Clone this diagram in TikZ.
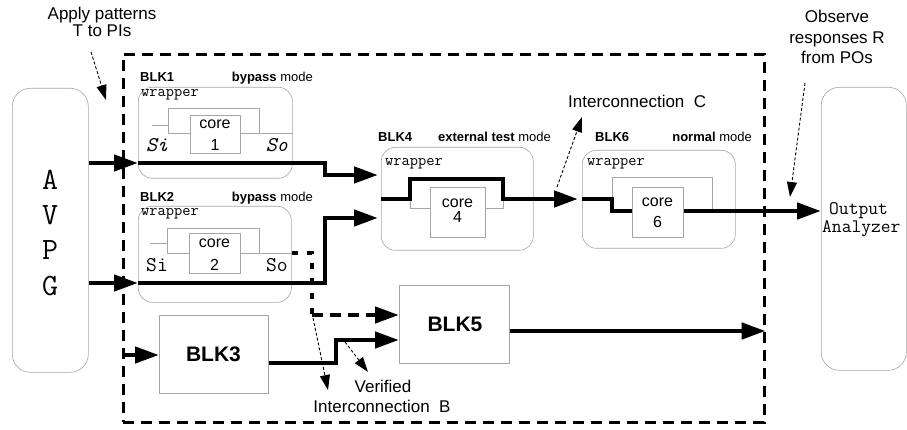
\documentclass[tikz,border=0pt]{standalone}
\usepackage{fontspec}
\setmainfont{Liberation Sans}
\usetikzlibrary{arrows.meta}

\begin{document}
\begin{tikzpicture}[x=1pt,y=-1pt,
  thinbox/.style={draw=gray!70, line width=0.6pt, inner sep=0pt},
  wrap/.style={thinbox, rounded corners=14pt},
  wire/.style={draw=gray!70, line width=0.8pt},
  heavy/.style={line width=4.5pt},
  bigtip/.style={-{Triangle[length=24pt,width=16pt]}},
  dotpat/.style={heavy, dash pattern=on 6pt off 9pt},
  dashpat/.style={heavy, dash pattern=on 11pt off 7pt},
  notearrow/.style={line width=0.9pt, dash pattern=on 3pt off 2pt, -{Triangle[length=15pt,width=10pt]}},
  note/.style={font=\fontsize{17}{20}\selectfont, inner sep=0pt},
  blklab/.style={font=\fontsize{13}{15}\selectfont\bfseries, inner sep=0pt},
  modelab/.style={font=\fontsize{13}{15}\selectfont, inner sep=0pt},
  corelab/.style={font=\fontsize{16}{18}\selectfont, inner sep=0pt},
  wraplab/.style={font=\ttfamily\fontsize{16}{18}\selectfont, inner sep=0pt},
  portlab/.style={font=\ttfamily\fontsize{21}{23}\selectfont, inner sep=0pt},
  biglab/.style={font=\fontsize{21}{24}\selectfont\bfseries, inner sep=0pt},
  avpglab/.style={font=\ttfamily\fontsize{31}{33}\selectfont, inner sep=0pt},
  oalab/.style={font=\ttfamily\fontsize{19}{21}\selectfont, inner sep=0pt}
]
\useasboundingbox (0,0) rectangle (907,430);
\fill[white] (0,0) rectangle (907,430);

% ---- outer blocks: pattern generator, SoC boundary, output analyzer
\node[wrap, rounded corners=18pt, minimum width=76pt, minimum height=284pt, anchor=north west] (avpg) at (12,88) {};
\node[avpglab, anchor=base] (la) at (50,190) {A};
\node[avpglab, anchor=base] (lv) at (50,225) {V};
\node[avpglab, anchor=base] (lp) at (50,260) {P};
\node[avpglab, anchor=base] (lg) at (50,295) {G};

\node[draw, line width=2.6pt, dash pattern=on 11pt off 7pt, inner sep=0pt,
      minimum width=641pt, minimum height=368pt, anchor=north west] (soc) at (122,53) {};

\node[wrap, rounded corners=18pt, minimum width=85pt, minimum height=283pt, anchor=north west] (oa) at (821,87) {};
\node[oalab, anchor=base west] (oa1) at (829,215) {Output};
\node[oalab, anchor=base west] (oa2) at (822,233) {Analyzer};

% ---- notes
\node[note, anchor=base] (ap1) at (102,19.5) {Apply patterns};
\node[note, anchor=base] (ap2) at (102,37) {T to PIs};
\node[note, anchor=base] (ob1) at (837,23) {Observe};
\node[note, anchor=base] (ob2) at (837,43.5) {responses R};
\node[note, anchor=base] (ob3) at (837,64) {from POs};
\node[note, anchor=base west] (icc) at (568,108) {Interconnection\ \ C};
\node[note, anchor=base] (vf1) at (383,392) {Verified};
\node[note, anchor=base] (vf2) at (382,412) {Interconnection\ \ B};

% ---- BLK1 (bypass)
\node[blklab, anchor=base west] (b1) at (140,82) {BLK1};
\node[modelab, anchor=base east] (m1) at (313,82) {\textbf{bypass} mode};
\node[wrap, minimum width=154pt, minimum height=91pt, anchor=north west] (w1) at (138,87) {};
\node[wraplab, anchor=base west] (wl1) at (141,97) {wrapper};
\node[thinbox, minimum width=50pt, minimum height=38pt, anchor=north west] (c1) at (190,115) {};
\node[corelab, anchor=base] (cc1) at (215,129) {core};
\node[corelab, anchor=base] (cn1) at (215,151) {1};
\node[portlab, anchor=base west] (si1) at (146,152) {\itshape Si};
\node[portlab, anchor=base east] (so1) at (288,152) {\itshape So};
\draw[wire] (152,125) -- (168,125);
\draw[wire] (c1.west |- 0,133) -- (168,133) -- (168,108) -- (259,108) -- (259,133);
\draw[wire] (c1.east |- 0,133) -- (w1.east |- 0,133);

% ---- BLK2 (bypass)
\node[blklab, anchor=base west] (b2) at (140,202) {BLK2};
\node[modelab, anchor=base east] (m2) at (313,202) {\textbf{bypass} mode};
\node[wrap, minimum width=153pt, minimum height=96pt, anchor=north west] (w2) at (138,206) {};
\node[wraplab, anchor=base west] (wl2) at (141,216) {wrapper};
\node[thinbox, minimum width=51pt, minimum height=40pt, anchor=north west] (c2) at (189,233) {};
\node[corelab, anchor=base] (cc2) at (214.5,248) {core};
\node[corelab, anchor=base] (cn2) at (214.5,270) {2};
\node[portlab, anchor=base west] (si2) at (146,272) {Si};
\node[portlab, anchor=base east] (so2) at (288,272) {So};
\draw[wire] (150,243) -- (167,243);
\draw[wire] (c2.west |- 0,253) -- (167,253) -- (167,228) -- (259,228) -- (259,253);
\draw[wire] (c2.east |- 0,253) -- (w2.east |- 0,253);

% ---- BLK3 and BLK5
\node[thinbox, minimum width=109pt, minimum height=78pt, anchor=north west] (blk3) at (159,315) {};
\node[biglab] (t3) at (213.5,354) {BLK3};
\node[thinbox, minimum width=110pt, minimum height=78pt, anchor=north west] (blk5) at (399,285) {};
\node[biglab] (t5) at (455,324) {BLK5};

% ---- BLK4 (external test)
\node[blklab, anchor=base west] (b4) at (378,142) {BLK4};
\node[modelab, anchor=base east] (m4) at (551,142) {\textbf{external test} mode};
\node[wrap, minimum width=152pt, minimum height=103pt, anchor=north west] (w4) at (381,147) {};
\node[wraplab, anchor=base west] (wl4) at (385,166) {wrapper};
\node[thinbox, minimum width=55pt, minimum height=50pt, anchor=north west] (c4) at (430,187) {};
\node[corelab, anchor=base] (cc4) at (457.5,208) {core};
\node[corelab, anchor=base] (cn4) at (457.5,223) {4};

% ---- BLK6 (normal)
\node[blklab, anchor=base west] (b6) at (595,142) {BLK6};
\node[modelab, anchor=base east] (m6) at (752,142) {\textbf{normal} mode};
\node[wrap, minimum width=153pt, minimum height=98pt, anchor=north west] (w6) at (582,150) {};
\node[wraplab, anchor=base west] (wl6) at (587,166) {wrapper};
\node[thinbox, minimum width=51pt, minimum height=50pt, anchor=north west] (c6) at (632,187) {};
\node[corelab, anchor=base] (cc6) at (657.5,207) {core};
\node[corelab, anchor=base] (cn6) at (657.5,228) {6};

% ---- test data paths
\draw[heavy,bigtip] (avpg.east |- 0,163) -- (w1.west |- 0,163);
\draw[heavy,bigtip] (w1.west |- 0,163) -- (325,163) -- (325,175) -- ([xshift=-3pt]w4.west |- 0,175);
\draw[heavy,bigtip] (avpg.east |- 0,283) -- (w2.west |- 0,283);
\draw[heavy,bigtip] (w2.west |- 0,283) -- (325,283) -- (325,218) -- ([xshift=-3pt]w4.west |- 0,218);

% BLK4 wrapper: test path around the core, then on to BLK6
\draw[wire] (410,199) -- (410,208) -- (c4.west |- 0,208);
\draw[wire] (c4.east |- 0,208) -- (503,208) -- (503,199);
\draw[heavy,bigtip] (w4.west |- 0,199) -- (410,199) -- (410,179) -- (503,179) -- (503,199) -- ([xshift=-4pt]w6.west |- 0,199);

% BLK6 wrapper: functional path through the core
\draw[wire] (612,199) -- (612,177) -- (712,177) -- (712,211);
\draw[heavy] (w6.west |- 0,199) -- (612,199) -- (612,211) -- (c6.west |- 0,211);
\draw[heavy,bigtip] (c6.east |- 0,211) -- (oa.west |- 0,211);

% BLK2 scan-out, BLK3 and BLK5 paths
\coordinate (tapB) at (312,315);
\coordinate (bendB) at (336,340);
\draw[dotpat] (w2.east |- 0,253) -| (tapB);
\draw[dashpat,bigtip] (tapB) -- (blk5.west |- tapB);
\draw[heavy,bigtip] (soc.west |- 0,355) -- (blk3.west |- 0,355);
\draw[heavy,bigtip] (blk3.east |- 0,363) -| (bendB) -- (blk5.west |- bendB);
\draw[heavy,bigtip] (blk5.east |- 0,331) -- (soc.east |- 0,331);

% ---- note arrows
\coordinate (apS) at (91,52);   \coordinate (apE) at (106,100);
\coordinate (obS) at (805,83);  \coordinate (obE) at (790,197);
\coordinate (icS) at (557,187); \coordinate (icE) at (582,117);
\coordinate (vaS) at (313,318); \coordinate (vaE) at (328,390);
\coordinate (vbS) at (345,342); \coordinate (vbE) at (368,372);
\draw[notearrow] (apS) -- (apE);
\draw[notearrow] (obS) -- (obE);
\draw[notearrow] (icS) -- (icE);
\draw[notearrow] (vaS) -- (vaE);
\draw[notearrow] (vbS) -- (vbE);
\end{tikzpicture}
\end{document}
